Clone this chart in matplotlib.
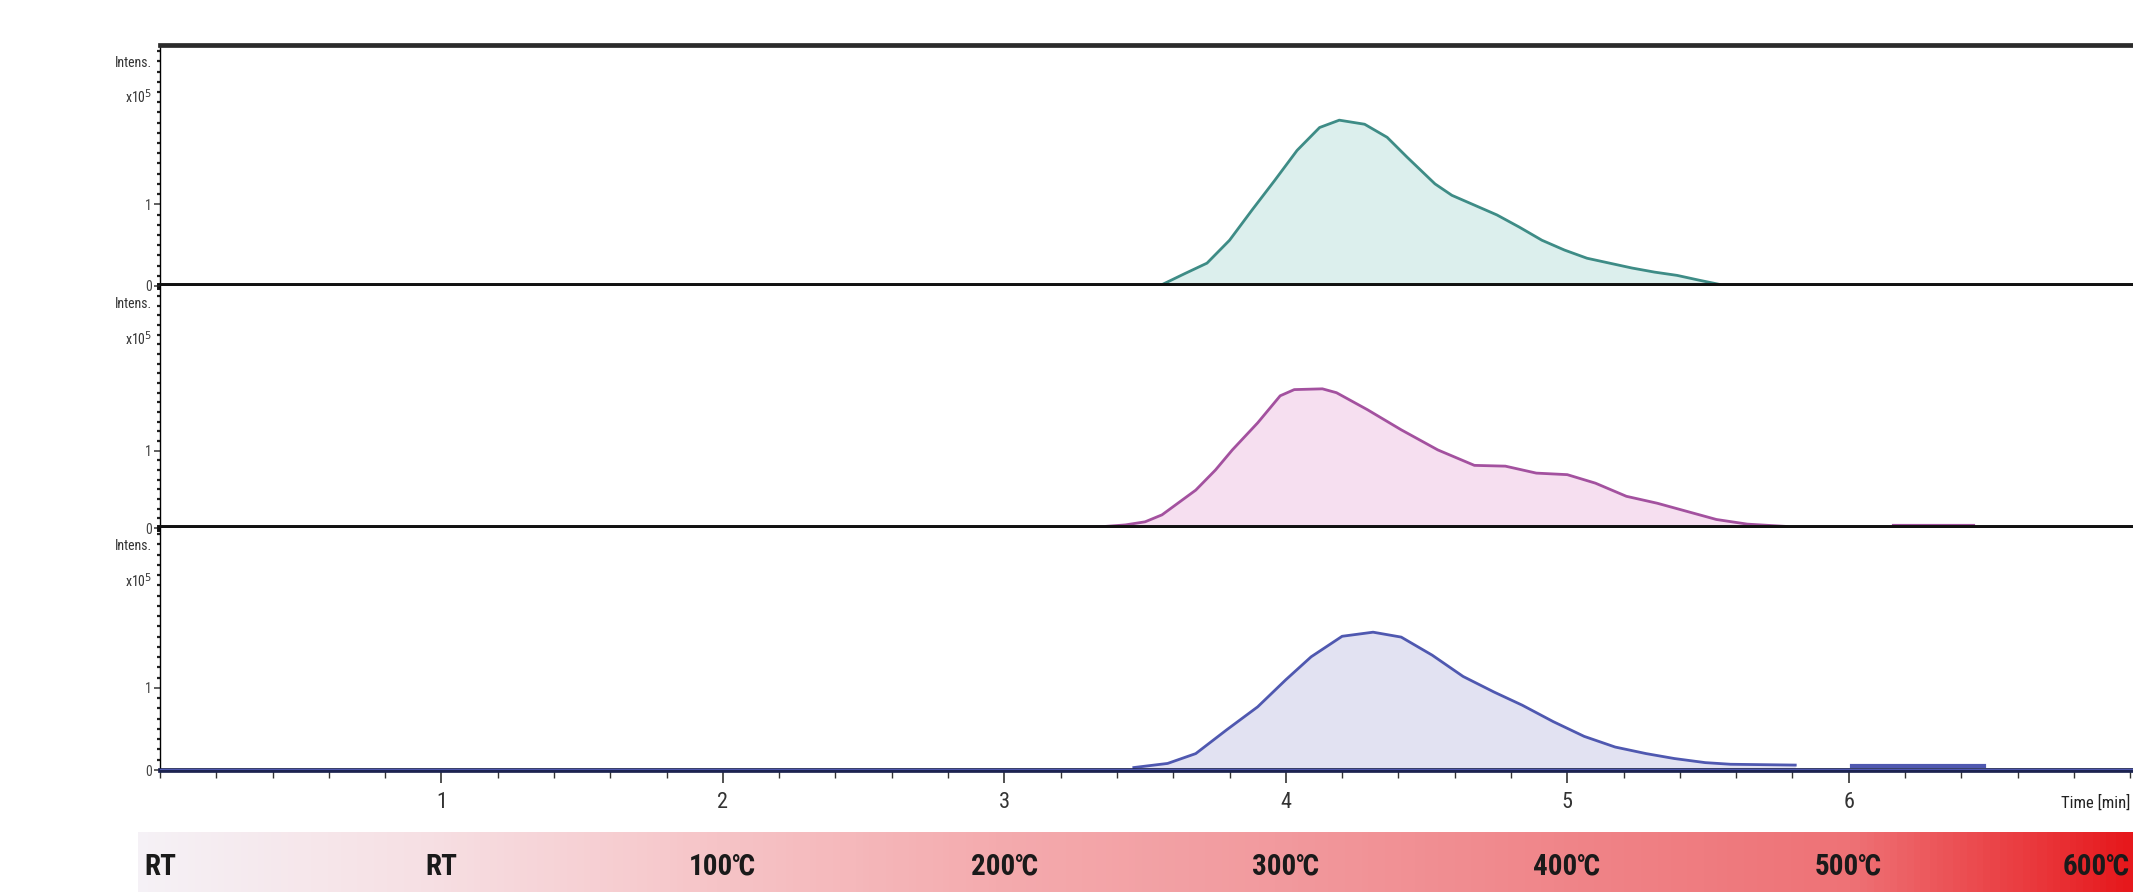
import numpy as np
import matplotlib.pyplot as plt
from matplotlib import font_manager
from matplotlib.colors import LinearSegmentedColormap
from matplotlib.ticker import MultipleLocator, FixedLocator

# retention time [min] / intensity [x10^5]
t_top = [3.55, 3.64, 3.72, 3.80, 3.88, 3.96, 4.04, 4.12, 4.19, 4.28, 4.36, 4.43, 4.53,
         4.59, 4.67, 4.75, 4.83, 4.91, 4.99, 5.07, 5.15, 5.23, 5.31, 5.39, 5.47, 5.54]
i_top = [0.0, 0.15, 0.28, 0.56, 0.93, 1.29, 1.66, 1.94, 2.03, 1.98, 1.82, 1.58, 1.25,
         1.11, 0.99, 0.87, 0.72, 0.56, 0.44, 0.34, 0.28, 0.22, 0.17, 0.13, 0.07, 0.02]

t_mid = [3.32, 3.43, 3.50, 3.56, 3.68, 3.75, 3.81, 3.90, 3.98, 4.03, 4.13, 4.18, 4.29,
         4.41, 4.54, 4.67, 4.78, 4.89, 5.00, 5.10, 5.21, 5.32, 5.43, 5.53, 5.64, 5.78]
i_mid = [0.01, 0.04, 0.08, 0.17, 0.49, 0.75, 1.01, 1.36, 1.71, 1.79, 1.80, 1.75, 1.53,
         1.27, 1.01, 0.81, 0.80, 0.71, 0.69, 0.58, 0.41, 0.32, 0.21, 0.11, 0.05, 0.02]
t_mid_tail = [6.16, 6.44]
i_mid_tail = [0.03, 0.03]

t_bot = [3.46, 3.58, 3.68, 3.79, 3.90, 4.00, 4.09, 4.20, 4.31, 4.41, 4.52, 4.63, 4.74,
         4.84, 4.95, 5.06, 5.17, 5.28, 5.38, 5.49, 5.58, 5.81]
i_bot = [0.03, 0.08, 0.20, 0.49, 0.77, 1.10, 1.38, 1.63, 1.68, 1.62, 1.40, 1.14, 0.95,
         0.79, 0.59, 0.41, 0.28, 0.20, 0.14, 0.09, 0.07, 0.06]
t_bot_tail = [6.01, 6.48]
i_bot_tail = [0.05, 0.05]

x_ticks = [1, 2, 3, 4, 5, 6]
temp_pos = [0, 1, 2, 3, 4, 5, 6, 7]
temp_labels = ['RT', 'RT', '100℃', '200℃', '300℃', '400℃', '500℃', '600℃']

# the original uses a tall, narrow typeface; take the narrowest one we have
available = {f.name for f in font_manager.fontManager.ttflist}
narrow = ['DejaVu Sans']
for cand in ['Roboto Condensed', 'Liberation Sans Narrow', 'Open Sans Condensed',
             'Noto Sans Condensed']:
    if cand in available:
        narrow = [cand, 'DejaVu Sans']
        break

W, H = 2133, 892
fig = plt.figure(figsize=(W / 100, H / 100), dpi=100)

left_px = 160
panels = [
    (45, 286, t_top, i_top, [], [], '#3e8c86', '#dcefed', 2.95),
    (286, 528, t_mid, i_mid, t_mid_tail, i_mid_tail, '#a3519f', '#f6dff0', 3.13),
    (528, 770, t_bot, i_bot, t_bot_tail, i_bot_tail, '#4f58b0', '#e2e2f2', 2.95),
]

for n, (top, bottom, t, i, tt, it, lc, fc, ymax) in enumerate(panels):
    ax = fig.add_axes([left_px / W, 1 - bottom / H, 1 - left_px / W, (bottom - top) / H])
    ax.fill_between(t, i, color=fc, lw=0)
    ax.plot(t, i, color=lc, lw=2.0, solid_joinstyle='round')
    if tt:
        ax.plot(tt, it, color=lc, lw=3)
    ax.set_xlim(0, 7.01)
    ax.set_ylim(0, ymax)

    ax.spines['right'].set_visible(False)
    ax.spines['left'].set_linewidth(1.0)
    if n == 0:
        ax.spines['top'].set_linewidth(3.4)
        ax.spines['top'].set_color('#2b2b2b')
    else:
        ax.spines['top'].set_visible(False)
    if n < 2:
        ax.spines['bottom'].set_linewidth(5.0)
        ax.spines['bottom'].set_color('#111111')
        ax.spines['bottom'].set_zorder(5)
        ax.set_xticks([])
    else:
        ax.axhline(0, color=lc, lw=1.5, zorder=4)
        ax.spines['bottom'].set_linewidth(3.4)
        ax.spines['bottom'].set_color('#1c2350')
        ax.xaxis.set_major_locator(FixedLocator(x_ticks))
        ax.xaxis.set_minor_locator(MultipleLocator(0.2))
        ax.tick_params(axis='x', which='major', length=9, width=1.2, pad=7,
                       labelsize=16, colors='#333333')
        ax.tick_params(axis='x', which='minor', length=6, width=1.0, color='#333333')
        for lab in ax.get_xticklabels():
            lab.set_family(narrow)
            lab.set_stretch('condensed')

    ax.yaxis.set_major_locator(FixedLocator([0, 1]))
    ax.yaxis.set_minor_locator(MultipleLocator(0.125))
    ax.tick_params(axis='y', which='major', length=4, width=1.2, pad=2,
                   labelsize=10, colors='#444444')
    ax.tick_params(axis='y', which='minor', length=2.5, width=1.6, color='#222222')
    for lab in ax.get_yticklabels():
        lab.set_family(narrow)
        lab.set_stretch('condensed')

    ax.text(-0.004, 1 - 18 / 241, 'Intens.', transform=ax.transAxes, ha='right',
            va='center', fontsize=10, color='#333333', family=narrow, stretch='condensed')
    ax.text(-0.004, 1 - 52 / 241, 'x10$^5$', transform=ax.transAxes, ha='right',
            va='center', fontsize=10, color='#333333', family=narrow, stretch='condensed')

fig.text(0.999, 1 - 803 / H, 'Time [min]', ha='right', va='center', fontsize=12,
         color='#222222', family=narrow, stretch='condensed')

# temperature band under the time axis
grad = LinearSegmentedColormap.from_list('temp', [
    (0.0, '#f5f1f6'), (0.14, '#f7e0e4'), (0.29, '#f6c4c7'), (0.43, '#f4abae'),
    (0.57, '#f29a9e'), (0.71, '#f0868a'), (0.86, '#ee7276'), (0.95, '#ea3a3e'),
    (1.0, '#e6181c')])
band_left = 138
bx0 = -(left_px - band_left) / 281.5
bax = fig.add_axes([band_left / W, 0, 1 - band_left / W, 60 / H])
bax.imshow(np.linspace(0, 1, 600)[None, :], aspect='auto', cmap=grad,
           extent=[bx0, 7.012, 0, 1])
bax.set_xlim(bx0, 7.012)
bax.set_ylim(0, 1)
bax.axis('off')
for p, lab in zip(temp_pos, temp_labels):
    # last label sits on the right edge, keep it inside the picture
    ha = 'right' if p == temp_pos[-1] else 'center'
    xp = 7.0 if p == temp_pos[-1] else p
    bax.text(xp, 0.42, lab, ha=ha, va='center', fontsize=21, fontweight='bold',
             color='#1a1a1a', family=narrow, stretch='condensed')

fig.savefig('out.png', dpi=100)
